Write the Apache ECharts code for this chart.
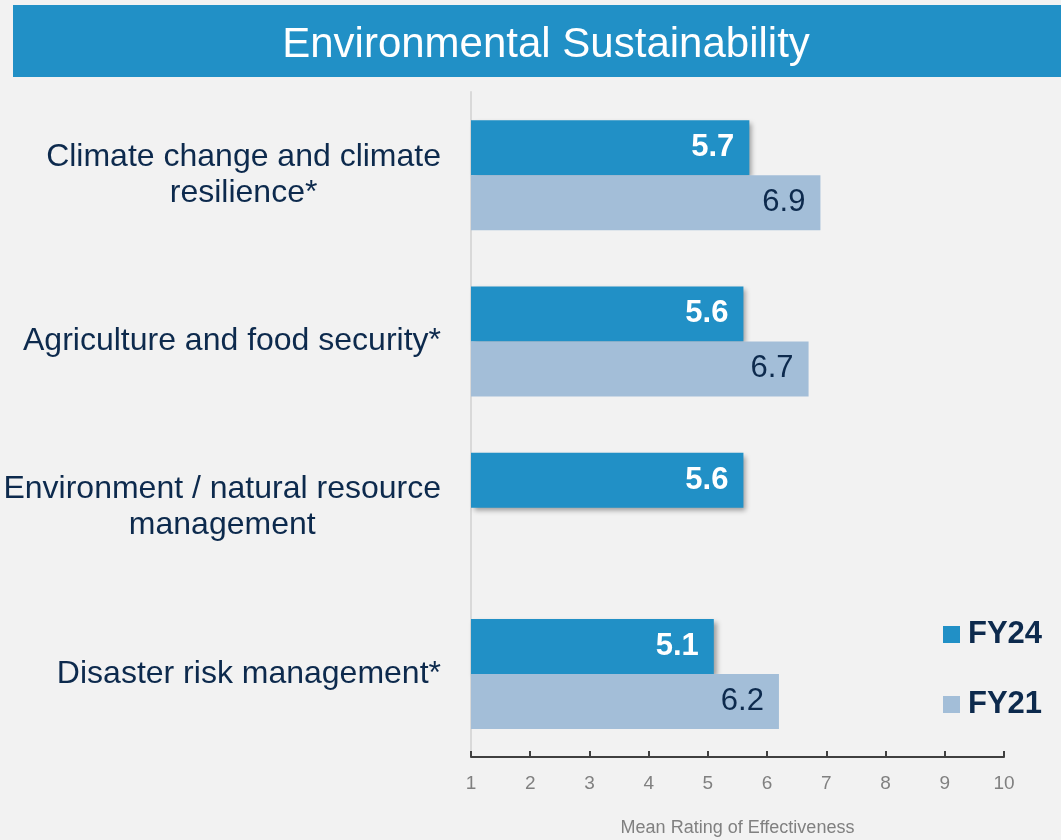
<!DOCTYPE html>
<html>
<head>
<meta charset="utf-8">
<script src="https://cdn.jsdelivr.net/npm/echarts@6/dist/echarts.min.js"></script>
<style>
  html, body { margin: 0; padding: 0; background: #f2f2f2; }
  #chart { width: 1061px; height: 840px; }
</style>
</head>
<body>
<div id="chart"></div>
<script>
// data
const categories = [
  "Climate change and climate\nresilience*",
  "Agriculture and food security*",
  "Environment / natural resource\nmanagement",
  "Disaster risk management*"
];
const fy24 = [5.7, 5.6, 5.6, 5.1];
const fy21 = [6.9, 6.7, null, 6.2];
const ticks = [1, 2, 3, 4, 5, 6, 7, 8, 9, 10];

const navy = "#0d2a4d";
const font = "Liberation Sans, Arial, sans-serif";

const chart = echarts.init(document.getElementById("chart"));
const option = {
  backgroundColor: "#f2f2f2",
  animation: false,
  textStyle: { fontFamily: font },
  graphic: [{
    type: "rect",
    shape: { x: 13, y: 5, width: 1048, height: 72 },
    style: { fill: "#2190c6" },
    z: 0
  }],
  title: {
    text: "Environmental Sustainability",
    left: 541,
    top: 19,
    textAlign: "center",
    textStyle: { color: "#fff", fontSize: 42, fontWeight: "normal", fontFamily: font }
  },
  legend: {
    orient: "vertical",
    left: 938,
    top: 614,
    itemGap: 39,
    itemWidth: 17,
    itemHeight: 17,
    icon: "rect",
    data: ["FY24", "FY21"],
    textStyle: { color: navy, fontSize: 31, fontWeight: "bold", fontFamily: font, padding: [0, 0, 0, 3] }
  },
  grid: { left: 471, right: 57, top: 92, bottom: 83, containLabel: false, outerBoundsMode: "none" },
  xAxis: {
    type: "value",
    min: 1,
    max: 10,
    interval: 1,
    name: "Mean Rating of Effectiveness",
    nameLocation: "middle",
    nameGap: 62,
    nameTextStyle: { color: "#808080", fontSize: 18, fontFamily: font },
    axisLine: { show: true, lineStyle: { color: "#404040", width: 2 } },
    axisTick: { show: true, inside: true, length: 6, lineStyle: { color: "#404040", width: 2 } },
    axisLabel: {
      color: "#808080", fontSize: 19, margin: 17, fontFamily: font,
      formatter: v => ticks.includes(v) ? String(v) : ""
    },
    splitLine: { show: false }
  },
  yAxis: {
    type: "category",
    inverse: true,
    data: categories,
    axisLine: { show: true, lineStyle: { color: "#d9d9d9", width: 2 } },
    axisTick: { show: false },
    axisLabel: {
      margin: 30,
      align: "right",
      formatter: v => v.split("\n").map(s => "{c|" + s + "}").join("\n"),
      rich: {
        c: { color: navy, fontSize: 32, lineHeight: 36, align: "center", fontFamily: font }
      }
    }
  },
  series: [
    {
      name: "FY24",
      type: "bar",
      data: fy24,
      barWidth: 55,
      barGap: "0%",
      itemStyle: {
        color: "#2190c6",
        shadowColor: "rgba(0,0,0,0.35)",
        shadowBlur: 5,
        shadowOffsetX: 3,
        shadowOffsetY: 3
      },
      label: {
        show: true,
        position: "insideRight",
        distance: 15,
        color: "#fff",
        fontSize: 31,
        fontWeight: "bold",
        fontFamily: font,
        formatter: p => p.value.toFixed(1)
      }
    },
    {
      name: "FY21",
      type: "bar",
      data: fy21,
      barWidth: 55,
      itemStyle: { color: "#a3bed8" },
      label: {
        show: true,
        position: "insideRight",
        distance: 15,
        color: navy,
        fontSize: 31,
        fontFamily: font,
        formatter: p => p.value == null ? "" : p.value.toFixed(1)
      }
    }
  ]
};
chart.setOption(option);
</script>
</body>
</html>
